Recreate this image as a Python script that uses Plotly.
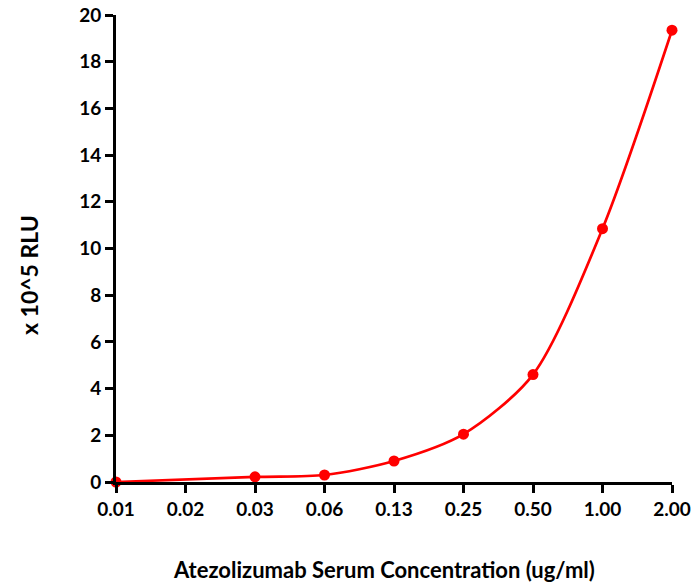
import plotly.graph_objects as go

tick_labels = ["0.01", "0.02", "0.03", "0.06", "0.13", "0.25", "0.50", "1.00", "2.00"]
concentrations = ["0.01", "0.03", "0.06", "0.13", "0.25", "0.50", "1.00", "2.00"]
rlu = [0.0, 0.22, 0.3, 0.9, 2.05, 4.6, 10.85, 19.35]

RED = "#FF0000"
FONT = "Lato"

fig = go.Figure()
fig.add_trace(go.Scatter(
    x=concentrations, y=rlu, mode="lines+markers",
    line=dict(color=RED, width=2.7, shape="spline", smoothing=0.8),
    marker=dict(color=RED, size=11),
    cliponaxis=False, showlegend=False,
))

fig.update_layout(
    width=692, height=584,
    margin=dict(l=116, r=20, t=15, b=102),
    paper_bgcolor="white", plot_bgcolor="white",
    font=dict(family=FONT, color="black"),
    xaxis=dict(
        type="category", categoryorder="array", categoryarray=tick_labels,
        range=[0, 8], showgrid=False, zeroline=False, automargin=False,
        showline=True, linecolor="black", linewidth=3,
        ticks="outside", ticklen=8, tickwidth=2.5, tickcolor="black",
        tickfont=dict(family=FONT, size=19, color="black", weight="bold"),
    ),
    yaxis=dict(
        range=[0, 20], dtick=2, showgrid=False, zeroline=False, automargin=False,
        showline=True, linecolor="black", linewidth=3,
        ticks="outside", ticklen=8, tickwidth=2.5, tickcolor="black",
        tickfont=dict(family=FONT, size=19, color="black", weight="bold"),
    ),
    annotations=[
        dict(text="<b>Atezolizumab Serum Concentration (ug/ml)</b>", xref="paper", yref="paper",
             x=(384 - 116) / 556, y=-(569 - 482) / 467, xanchor="center", yanchor="middle",
             showarrow=False, font=dict(family=FONT, size=22, color="black")),
        dict(text="<b>x 10^5 RLU</b>", xref="paper", yref="paper",
             x=-(116 - 29) / 556, y=(482 - 275) / 467, xanchor="center", yanchor="middle",
             textangle=-90, showarrow=False, font=dict(family=FONT, size=23, color="black")),
    ],
)

fig.write_html("out.html")
